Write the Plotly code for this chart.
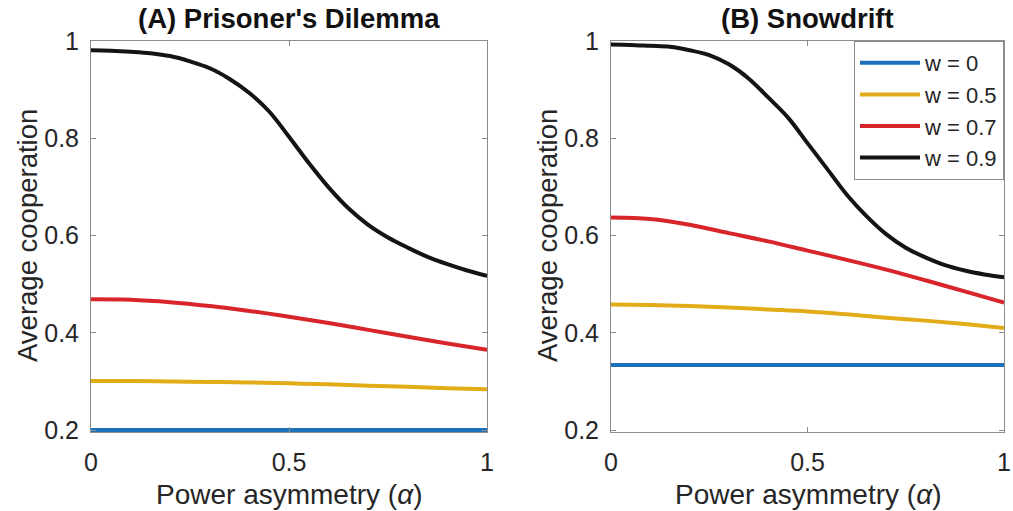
import plotly.graph_objects as go

# ---- data ----
alpha = [0.0, 0.1, 0.2, 0.3, 0.4, 0.5, 0.6, 0.7, 0.8, 0.9, 1.0]
alpha_fine = [0.0, 0.05, 0.1, 0.15, 0.2, 0.25, 0.3, 0.35, 0.4, 0.45, 0.5,
              0.55, 0.6, 0.65, 0.7, 0.75, 0.8, 0.85, 0.9, 0.95, 1.0]
series_labels = ["w = 0", "w = 0.5", "w = 0.7", "w = 0.9"]

pd_w0 = [0.200] * 11
pd_w05 = [0.301, 0.301, 0.300, 0.299, 0.298, 0.296, 0.294, 0.291, 0.289, 0.286, 0.284]
pd_w07 = [0.469, 0.468, 0.463, 0.455, 0.445, 0.433, 0.420, 0.406, 0.392, 0.378, 0.365]
pd_w09 = [0.981, 0.980, 0.978, 0.975, 0.969, 0.958, 0.944, 0.922, 0.893, 0.855, 0.803,
          0.749, 0.699, 0.656, 0.622, 0.596, 0.575, 0.556, 0.541, 0.528, 0.517]

sd_w0 = [0.334] * 11
sd_w05 = [0.458, 0.457, 0.455, 0.452, 0.448, 0.444, 0.438, 0.431, 0.425, 0.418, 0.410]
sd_w07 = [0.637, 0.634, 0.622, 0.605, 0.588, 0.569, 0.550, 0.530, 0.508, 0.485, 0.462]
sd_w09 = [0.993, 0.992, 0.990, 0.988, 0.981, 0.971, 0.952, 0.923, 0.884, 0.843, 0.790,
          0.737, 0.684, 0.640, 0.603, 0.575, 0.555, 0.539, 0.528, 0.520, 0.514]

x_ticks = [0, 0.5, 1]
x_ticklabels = ["0", "0.5", "1"]
y_ticks = [0.2, 0.4, 0.6, 0.8, 1.0]
y_ticklabels = ["0.2", "0.4", "0.6", "0.8", "1"]

panel_titles = ["(A) Prisoner's Dilemma", "(B) Snowdrift"]
x_title = "Power asymmetry (<i>α</i>)"
y_title = "Average cooperation"

colors = ["#1B72B8", "#E2AB18", "#D8242B", "#141414"]

W, H = 1013, 511
FONT = "Liberation Sans, Arial, sans-serif"
TXT = "#262626"
AX = "#8c8c8c"

fig = go.Figure()

pd_series = [(alpha, pd_w0), (alpha, pd_w05), (alpha, pd_w07), (alpha_fine, pd_w09)]
sd_series = [(alpha, sd_w0), (alpha, sd_w05), (alpha, sd_w07), (alpha_fine, sd_w09)]

for i, (xs, ys) in enumerate(pd_series):
    fig.add_trace(go.Scatter(x=xs, y=ys, mode="lines", xaxis="x", yaxis="y",
                             line=dict(color=colors[i], width=4, shape="spline", smoothing=1.0),
                             name=series_labels[i], showlegend=False, hoverinfo="skip"))
for i, (xs, ys) in enumerate(sd_series):
    fig.add_trace(go.Scatter(x=xs, y=ys, mode="lines", xaxis="x2", yaxis="y2",
                             line=dict(color=colors[i], width=4, shape="spline", smoothing=1.0),
                             name=series_labels[i], showlegend=True, hoverinfo="skip"))

# pixel geometry
top_px, bot_px = 41, 432
left1 = (91, 487)
left2 = (611, 1004)

def xd(a, b):
    return [a / W, b / W]

ydom = [1 - bot_px / H, 1 - top_px / H]

axis_common = dict(showline=True, linecolor=AX, linewidth=1, mirror="ticks",
                   ticks="inside", ticklen=5, tickcolor=AX, tickwidth=1,
                   showgrid=False, zeroline=False, automargin=False,
                   ticklabeloverflow="allow",
                   tickfont=dict(family=FONT, size=25, color=TXT))

fig.update_layout(
    width=W, height=H,
    margin=dict(l=0, r=0, t=0, b=0, autoexpand=False),
    paper_bgcolor="white", plot_bgcolor="white",
    xaxis=dict(domain=xd(*left1), range=[0, 1], tickvals=x_ticks, ticktext=x_ticklabels,
               anchor="y", ticklabelstandoff=8, **axis_common),
    yaxis=dict(domain=ydom, range=[0.196, 1.0], tickvals=y_ticks, ticktext=y_ticklabels,
               anchor="x", ticklabelstandoff=6, **axis_common),
    xaxis2=dict(domain=xd(*left2), range=[0, 1], tickvals=x_ticks, ticktext=x_ticklabels,
                anchor="y2", ticklabelstandoff=8, **axis_common),
    yaxis2=dict(domain=ydom, range=[0.196, 1.0], tickvals=y_ticks, ticktext=y_ticklabels,
                anchor="x2", ticklabelstandoff=6, **axis_common),
    legend=dict(x=left2[1] / W, y=1 - top_px / H, xanchor="right", yanchor="top",
                bgcolor="white", bordercolor=AX, borderwidth=1,
                font=dict(family=FONT, size=22, color=TXT),
                tracegroupgap=0, itemwidth=60),
    showlegend=True,
)

ann = []
for (l, r), t in zip([left1, left2], panel_titles):
    cx = (l + r) / 2 / W
    ann.append(dict(text=f"<b>{t}</b>", x=cx, y=1 - 18 / H, xref="paper", yref="paper",
                    showarrow=False, xanchor="center", yanchor="middle",
                    font=dict(family=FONT, size=27.5, color="#111")))
    ann.append(dict(text=x_title, x=cx, y=1 - 494 / H, xref="paper", yref="paper",
                    showarrow=False, xanchor="center", yanchor="middle",
                    font=dict(family=FONT, size=28, color=TXT)))
for lx in [27, 547]:
    ann.append(dict(text=y_title, x=lx / W, y=1 - 236 / H, xref="paper", yref="paper",
                    showarrow=False, xanchor="center", yanchor="middle", textangle=-90,
                    font=dict(family=FONT, size=27.5, color=TXT)))
fig.update_layout(annotations=ann)

fig.write_html("out.html")
